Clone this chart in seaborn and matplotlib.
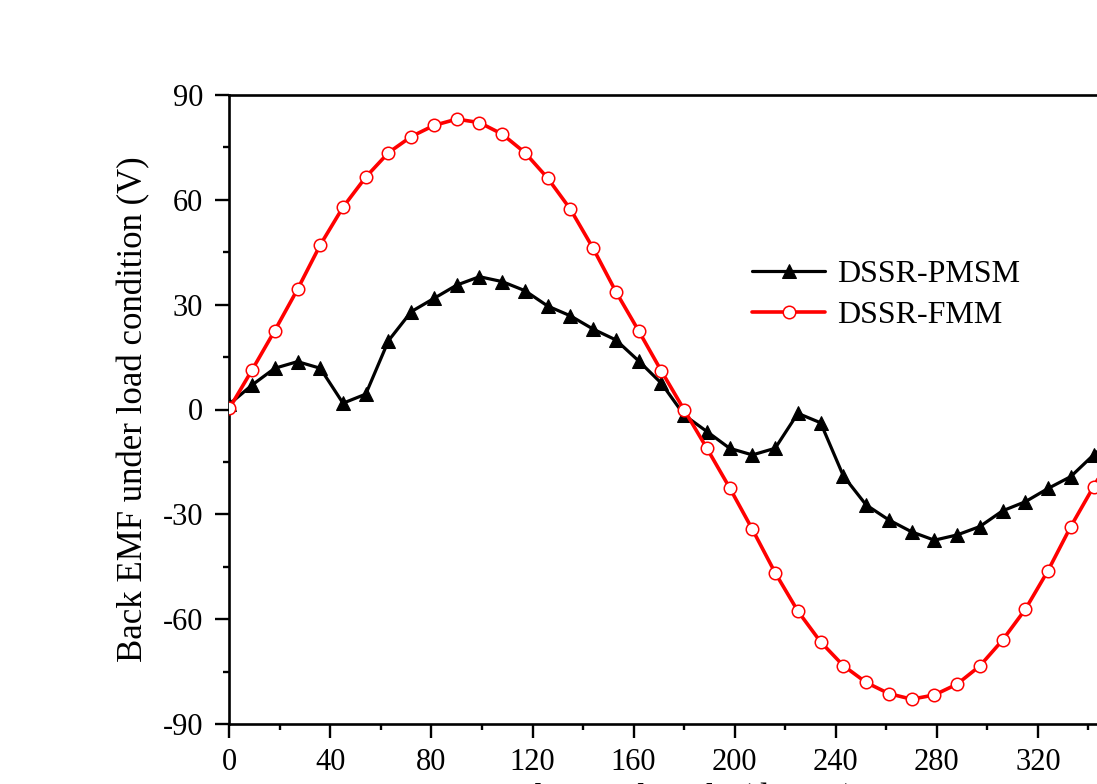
import matplotlib
matplotlib.use("Agg")
import matplotlib.pyplot as plt
from matplotlib.ticker import MultipleLocator
import seaborn as sns
import pandas as pd

angle = [0, 9, 18, 27, 36, 45, 54, 63, 72, 81, 90, 99, 108, 117, 126, 135, 144, 153, 162, 171,
         180, 189, 198, 207, 216, 225, 234, 243, 252, 261, 270, 279, 288, 297, 306, 315, 324, 333,
         342, 351, 360]
pmsm = [1.5, 7.0, 11.8, 13.7, 11.8, 1.8, 4.4, 19.7, 28.0, 31.8, 35.6, 38.0, 36.6, 34.0, 29.6, 26.8,
        23.0, 19.9, 13.9, 7.5, -1.6, -6.3, -11.1, -13.0, -11.1, -1.1, -3.8, -19.0, -27.3, -31.6,
        -35.0, -37.4, -35.9, -33.5, -29.0, -26.4, -22.6, -19.2, -13.0, -7.5, 1.5]
fmm = [0.3, 11.3, 22.6, 34.4, 47.1, 57.9, 66.5, 73.5, 78.1, 81.3, 83.1, 82.1, 78.8, 73.5, 66.2,
       57.3, 46.1, 33.7, 22.5, 11.0, -0.1, -11.1, -22.4, -34.3, -46.7, -57.7, -66.5, -73.3, -78.1,
       -81.3, -82.9, -81.7, -78.6, -73.4, -66.0, -57.2, -46.1, -33.5, -22.1, -11.0, 0.0]
series_names = ["DSSR-PMSM", "DSSR-FMM"]
x_ticks = [0, 40, 80, 120, 160, 200, 240, 280, 320, 360]
y_ticks = [-90, -60, -30, 0, 30, 60, 90]

sns.set_style("ticks")
plt.rcParams["font.family"] = ["Liberation Serif", "DejaVu Serif"]
plt.rcParams["axes.unicode_minus"] = False
plt.rcParams["text.color"] = "black"
plt.rcParams["xtick.color"] = "black"
plt.rcParams["ytick.color"] = "black"
plt.rcParams["axes.labelcolor"] = "black"
plt.rcParams["axes.edgecolor"] = "black"

df = pd.concat([
    pd.DataFrame({"angle": angle, "emf": pmsm, "series": series_names[0]}),
    pd.DataFrame({"angle": angle, "emf": fmm, "series": series_names[1]}),
])

W, H = 1097, 784
fig = plt.figure(figsize=(W / 100, H / 100), dpi=100)
ax = fig.add_axes([229.3 / W, 60 / H, 909.7 / W, 629 / H])

sns.lineplot(data=df[df.series == series_names[0]], x="angle", y="emf", ax=ax,
             color="black", lw=2.3, marker="^", markersize=10.5, markeredgecolor="black",
             markerfacecolor="black", label=series_names[0], zorder=3)
sns.lineplot(data=df[df.series == series_names[1]], x="angle", y="emf", ax=ax,
             color="red", lw=2.6, marker="o", markersize=9, markeredgecolor="red",
             markerfacecolor="white", markeredgewidth=1.1, label=series_names[1], zorder=4)

ax.set_xlim(0, 360)
ax.set_ylim(-90, 90)
ax.set_xticks(x_ticks)
ax.set_yticks(y_ticks)
ax.xaxis.set_minor_locator(MultipleLocator(20))
ax.yaxis.set_minor_locator(MultipleLocator(15))
ax.tick_params(which="major", direction="out", length=10, width=1.7, labelsize=22,
               top=False, right=False, colors="black")
ax.tick_params(which="minor", direction="out", length=4.5, width=1.7, top=False, right=False,
               colors="black")
ax.tick_params(axis="x", which="major", pad=7)
ax.tick_params(axis="y", which="major", pad=9)
for s in ax.spines.values():
    s.set_linewidth(1.9)
    s.set_color("black")
    s.set_visible(True)

ax.set_xlabel("Electrical angle (degree)", fontsize=25, labelpad=4)
ax.set_ylabel("Back EMF under load condition (V)", fontsize=25, labelpad=9)

leg = ax.legend(loc="upper left", bbox_to_anchor=(752 / W, 1 - 260 / H),
                bbox_transform=fig.transFigure, frameon=False, fontsize=23,
                handlelength=2.3, handletextpad=0.35, borderpad=0, borderaxespad=0,
                labelspacing=0.35)

fig.savefig("out.png", dpi=100)
